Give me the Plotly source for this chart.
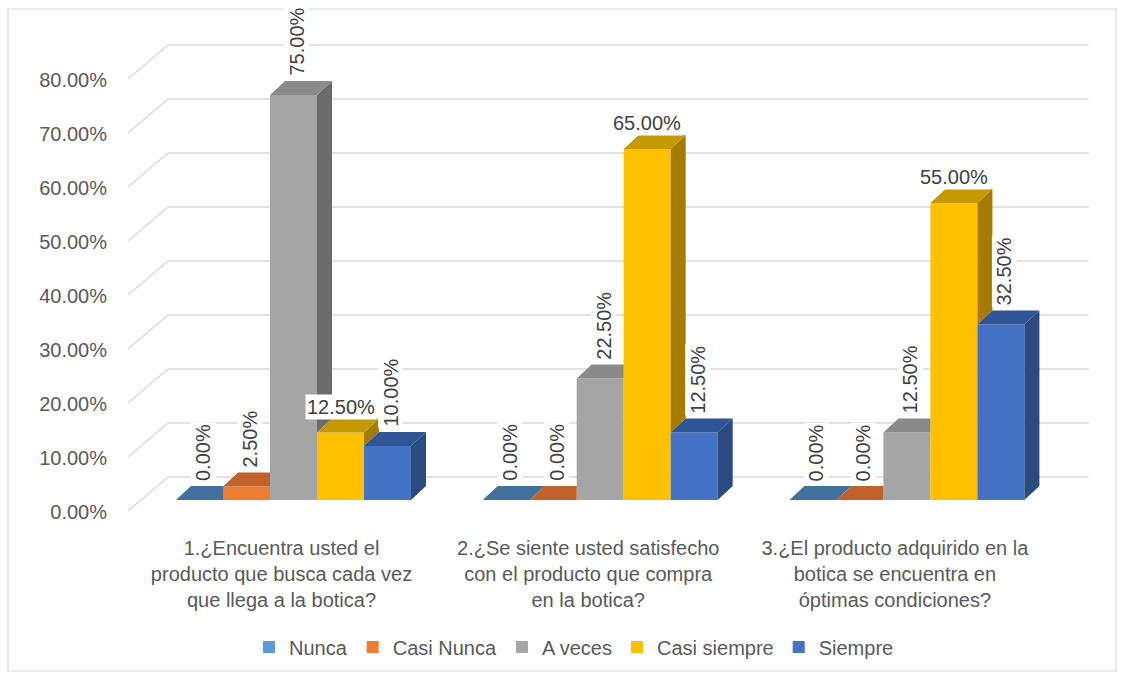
import plotly.graph_objects as go

# ---------------- data ----------------
categories = [
    "1.¿Encuentra usted el<br>producto que busca cada vez<br>que llega a la botica?",
    "2.¿Se siente usted satisfecho<br>con el producto que compra<br>en la botica?",
    "3.¿El producto adquirido en la<br>botica se encuentra en<br>óptimas condiciones?",
]
series_names = ["Nunca", "Casi Nunca", "A veces", "Casi siempre", "Siempre"]
nunca = [0.0, 0.0, 0.0]
casi_nunca = [0.025, 0.0, 0.0]
a_veces = [0.75, 0.225, 0.125]
casi_siempre = [0.125, 0.65, 0.55]
siempre = [0.10, 0.125, 0.325]
y_ticks = [0.0, 0.1, 0.2, 0.3, 0.4, 0.5, 0.6, 0.7, 0.8]
y_tick_labels = ["0.00%", "10.00%", "20.00%", "30.00%", "40.00%",
                 "50.00%", "60.00%", "70.00%", "80.00%"]

series_values = [nunca, casi_nunca, a_veces, casi_siempre, siempre]

# ---------------- style ----------------
front_colors = ["#5B9BD5", "#ED7D31", "#A5A5A5", "#FFC000", "#4472C4"]
side_colors = ["#3A6A98", "#A9561C", "#6B6B6B", "#A67C00", "#2B4A80"]
top_colors = ["#41719C", "#C0622A", "#8A8A8A", "#C49A00", "#2F5597"]
label_horizontal = [False, False, False, True, False]
FONT = "Liberation Sans"
TEXT = "#595959"
GRID = "#D9D9D9"

W, H = 1123, 679
L, R, T, B = 112, 23, 20, 159
PX_X = 306.7      # pixels per category unit
PX_Y = 540.0      # pixels per value unit (1.0 = 100%)
X0_PX = 293.5     # pixel of category 0 centre
BASE_PX = 500.0   # pixel of value 0 (bar front base)

x_range = [(L - X0_PX) / PX_X, (W - R - X0_PX) / PX_X]
y_range = [-(H - B - BASE_PX) / PX_Y, (BASE_PX - T) / PX_Y]

bar_w = 47 / PX_X
dx = 15 / PX_X
dy = 14 / PX_Y
back_shift = 23 / PX_Y           # back wall gridlines above bar base plane
front_shift = -11 / PX_Y         # front end of the floor diagonals
back_left = (168 - X0_PX) / PX_X
back_right = (1089 - X0_PX) / PX_X
front_left = (128 - X0_PX) / PX_X

fig = go.Figure()

n_series = len(series_values)
centers = []
for k, vals in enumerate(series_values):
    xs = [g + (k - (n_series - 1) / 2) * bar_w for g in range(len(categories))]
    centers.append(xs)
    fig.add_trace(go.Bar(
        x=xs, y=vals, width=bar_w, name=series_names[k],
        marker=dict(color=front_colors[k], line=dict(width=0)),
        hoverinfo="skip",
    ))

# 3D side and top faces (computed from the values, clipped by the next bar)
for k, vals in enumerate(series_values):
    sx, sy, tx, ty = [], [], [], []
    for g, v in enumerate(vals):
        c = centers[k][g]
        xl, xr = c - bar_w / 2, c + bar_w / 2
        nxt = series_values[k + 1][g] if k + 1 < n_series else None
        base = 0.0 if nxt is None else nxt
        if v > base:
            sx += [xr, xr + dx, xr + dx, xr, xr, None]
            sy += [base, base + dy, v + dy, v, base, None]
        if nxt is None or nxt <= v:
            tx += [xl, xr, xr + dx, xl + dx, xl, None]
            ty += [v, v, v + dy, v + dy, v, None]
        else:
            h = min(nxt, v + dy)
            tx += [xl, xr, xr, xr + dx * (v + dy - h) / dy, xl + dx, xl, None]
            ty += [v, v, h, v + dy, v + dy, v, None]
    if sx:
        fig.add_trace(go.Scatter(x=sx, y=sy, mode="lines", fill="toself",
                                 fillcolor=side_colors[k], line=dict(width=0),
                                 showlegend=False, hoverinfo="skip"))
    fig.add_trace(go.Scatter(x=tx, y=ty, mode="lines", fill="toself",
                             fillcolor=top_colors[k], line=dict(width=0),
                             showlegend=False, hoverinfo="skip"))

# gridlines on the back wall plus floor diagonals
shapes = []
for v in y_ticks:
    shapes.append(dict(type="line", xref="x", yref="y", layer="below",
                       x0=back_left, x1=back_right, y0=v + back_shift, y1=v + back_shift,
                       line=dict(color=GRID, width=1.5)))
    shapes.append(dict(type="line", xref="x", yref="y", layer="below",
                       x0=front_left, x1=back_left, y0=v + front_shift, y1=v + back_shift,
                       line=dict(color=GRID, width=1.5)))
# chart border
pw, ph = W - L - R, H - T - B
shapes.append(dict(type="rect", xref="paper", yref="paper", layer="below",
                   x0=(8 - L) / pw, x1=(1116 - L) / pw,
                   y0=(H - B - 671) / ph, y1=(H - B - 9) / ph,
                   line=dict(color=GRID, width=1.2), fillcolor="rgba(0,0,0,0)"))

# data labels
annotations = []
for k, vals in enumerate(series_values):
    for g, v in enumerate(vals):
        txt = f"{v * 100:.2f}%"
        if label_horizontal[k]:
            annotations.append(dict(x=centers[k][g], y=v, xref="x", yref="y",
                                    text=txt, showarrow=False, xanchor="center",
                                    yanchor="bottom", yshift=13, bgcolor="white",
                                    borderpad=1,
                                    font=dict(family=FONT, size=20, color="#404040")))
        else:
            annotations.append(dict(x=centers[k][g], y=v, xref="x", yref="y",
                                    text=txt, showarrow=False, textangle=-90,
                                    xanchor="center", yanchor="bottom",
                                    xshift=3, yshift=17, bgcolor="white",
                                    borderpad=1,
                                    font=dict(family=FONT, size=20, color="#404040")))

fig.update_layout(
    width=W, height=H,
    margin=dict(l=L, r=R, t=T, b=B),
    paper_bgcolor="white", plot_bgcolor="white",
    barmode="overlay",
    font=dict(family=FONT, size=20, color=TEXT),
    xaxis=dict(range=x_range, tickvals=list(range(len(categories))), ticktext=categories,
               showgrid=False, zeroline=False, showline=False, ticks="",
               ticklabelshift=-12, ticklabelstandoff=14, fixedrange=True,
               tickfont=dict(family=FONT, size=20, color=TEXT)),
    yaxis=dict(range=y_range, tickvals=y_ticks, ticktext=y_tick_labels,
               showgrid=False, zeroline=False, showline=False, ticks="",
               ticklabelshift=12, ticklabelstandoff=4, fixedrange=True,
               tickfont=dict(family=FONT, size=20, color=TEXT)),
    legend=dict(orientation="h", xref="container", yref="container",
                x=574 / W, y=1 - 647 / H, xanchor="center", yanchor="middle",
                font=dict(family=FONT, size=20, color=TEXT),
                bgcolor="rgba(0,0,0,0)", traceorder="normal"),
    shapes=shapes,
    annotations=annotations,
    showlegend=True,
)

fig.write_html("out.html")
